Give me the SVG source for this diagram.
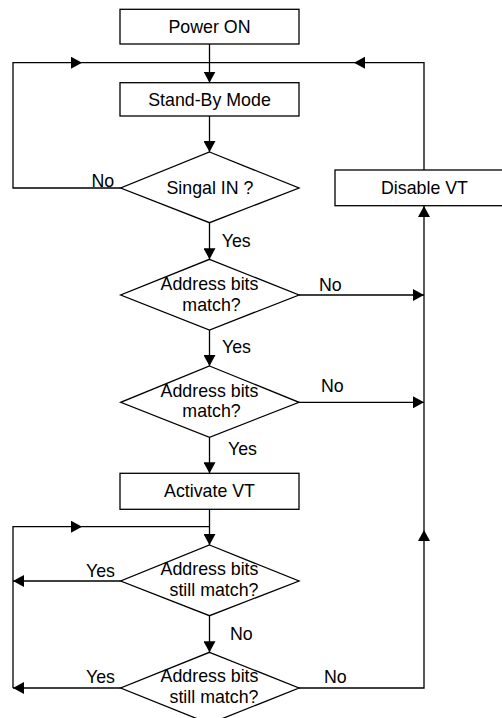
<svg xmlns="http://www.w3.org/2000/svg" width="502" height="718" viewBox="0 0 502 718">
<style>
.box{fill:#fff;stroke:#000;stroke-width:1.3}
.t{font-family:"Liberation Sans",Arial,sans-serif;font-size:17.8px;fill:#000}
.c{text-anchor:middle}
.ln{fill:none;stroke:#000;stroke-width:1.3}
.ar{marker-end:url(#ah)}
</style>
<defs>
<marker id="ah" viewBox="0 0 11 12" refX="11" refY="6" markerWidth="11" markerHeight="12" markerUnits="userSpaceOnUse" orient="auto">
<path d="M0,0 L11,6 L0,12 z" fill="#000"/>
</marker>
</defs>
<rect width="502" height="718" fill="#fff"/>
<g id="connectors">
<path class="ln ar" d="M209.5 44 V82.7"/>
<path class="ln ar" d="M209.5 116 V152"/>
<path class="ln ar" d="M120.7 188 H13 V62.7 H82"/>
<path class="ln" d="M82 62.7 H209.5"/>
<path class="ln ar" d="M424 170 V62.7 H354"/>
<path class="ln" d="M354 62.7 H209.5"/>
<path class="ln ar" d="M209.5 222.7 V259.3"/>
<path class="ln ar" d="M299 295 H424"/>
<path class="ln ar" d="M209.5 330 V366"/>
<path class="ln ar" d="M299 402.3 H424"/>
<path class="ln ar" d="M209.5 437.3 V473.3"/>
<path class="ln ar" d="M209.5 509.3 V545"/>
<path class="ln ar" d="M120.7 581 H13"/>
<path class="ln ar" d="M120.7 688 H13"/>
<path class="ln ar" d="M13 688 V526.7 H82"/>
<path class="ln" d="M82 526.7 H209.5"/>
<path class="ln ar" d="M209.5 615.7 V652.3"/>
<path class="ln ar" d="M299 688 H424 V530"/>
<path class="ln ar" d="M424 530 V206"/>
<text class="t" x="91.5" y="186.5">No</text>
<text class="t" x="221.7" y="246.7">Yes</text>
<text class="t" x="319" y="291">No</text>
<text class="t" x="222" y="353.3">Yes</text>
<text class="t" x="321" y="391.7">No</text>
<text class="t" x="228" y="455">Yes</text>
<text class="t" x="86" y="576.7">Yes</text>
<text class="t" x="230" y="640">No</text>
<text class="t" x="86" y="683">Yes</text>
<text class="t" x="324" y="683">No</text>
</g>
<g id="power-on">
<rect class="box" x="120" y="9.3" width="179" height="34.7"/>
<text class="t c" x="209.5" y="33">Power ON</text>
</g>
<g id="standby">
<rect class="box" x="120" y="82.7" width="179" height="33.3"/>
<text class="t c" x="209.5" y="105.5">Stand-By Mode</text>
</g>
<g id="signal-in">
<polygon class="box" points="209.5,152 299,188 209.5,222.7 120.7,188"/>
<text class="t c" x="210" y="194">Singal IN ?</text>
</g>
<g id="disable-vt">
<rect class="box" x="335" y="170" width="179" height="35.7"/>
<text class="t c" x="424.5" y="194">Disable VT</text>
</g>
<g id="match1">
<polygon class="box" points="209.5,259.3 299,295 209.5,330 120.7,295"/>
<text class="t c" x="209.5" y="290">Address bits</text>
<text class="t c" x="211.5" y="310.7">match?</text>
</g>
<g id="match2">
<polygon class="box" points="209.5,366 299,402.3 209.5,437.3 120.7,402.3"/>
<text class="t c" x="209.5" y="396.7">Address bits</text>
<text class="t c" x="211.5" y="417.3">match?</text>
</g>
<g id="activate-vt">
<rect class="box" x="120" y="473.3" width="179" height="36"/>
<text class="t c" x="209.5" y="497">Activate VT</text>
</g>
<g id="still1">
<polygon class="box" points="209.5,545 299,581 209.5,615.7 120.7,581"/>
<text class="t c" x="209.5" y="575">Address bits</text>
<text class="t c" x="214" y="596">still match?</text>
</g>
<g id="still2">
<polygon class="box" points="209.5,652.3 299,688 209.5,723.7 120.7,688"/>
<text class="t c" x="209.5" y="681.7">Address bits</text>
<text class="t c" x="214" y="702.7">still match?</text>
</g>
</svg>
